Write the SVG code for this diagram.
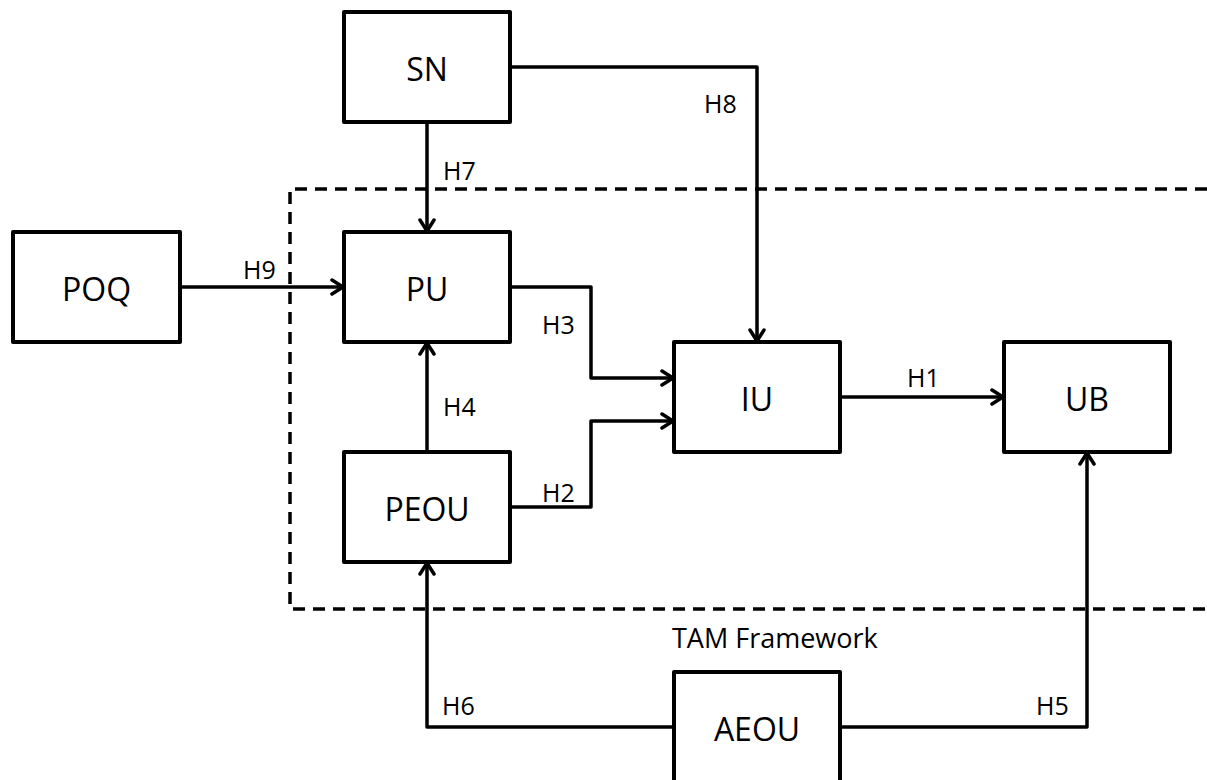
<svg xmlns="http://www.w3.org/2000/svg" width="1207" height="780" viewBox="0 0 1207 780">
<style>
.box{fill:#fff;stroke:#000;stroke-width:4;stroke-linejoin:round}
.node{font-family:"Open Sans","Liberation Sans",sans-serif;font-size:32px;fill:#000;text-anchor:middle}
.lbl{font-family:"Open Sans","Liberation Sans",sans-serif;font-size:25px;fill:#000}
.tam{font-family:"Open Sans","Liberation Sans",sans-serif;font-size:27px;fill:#000}
.ln{fill:none;stroke:#000;stroke-width:3.5;stroke-linejoin:round}
.arr{marker-end:url(#ah)}
.dash{fill:none;stroke:#000;stroke-width:3.5;stroke-dasharray:12 8}
</style>
<defs>
<marker id="ah" markerUnits="userSpaceOnUse" markerWidth="18" markerHeight="18" viewBox="0 0 18 18" refX="15" refY="9" orient="auto">
<path d="M4,2 L15,9 L4,16" fill="none" stroke="#000" stroke-width="3.5" stroke-linecap="round" stroke-linejoin="round"/>
</marker>
</defs>
<path class="dash" d="M1207,189 H290 V609 H1207"/>
<text class="tam" x="672" y="648">TAM Framework</text>
<g id="connectors">
<path class="ln arr" d="M427,122 V231"/>
<path class="ln arr" d="M180,287 H343"/>
<path class="ln arr" d="M510,67 H757 V341"/>
<path class="ln arr" d="M510,287 H591 V378 H673"/>
<path class="ln arr" d="M510,507 H591 V421 H673"/>
<path class="ln arr" d="M427,452 V343"/>
<path class="ln arr" d="M840,397 H1003"/>
<path class="ln arr" d="M674,727 H427 V563"/>
<path class="ln arr" d="M840,727 H1087 V453"/>
<text class="lbl" x="443" y="180">H7</text>
<text class="lbl" x="243" y="279">H9</text>
<text class="lbl" x="704" y="113">H8</text>
<text class="lbl" x="542" y="334">H3</text>
<text class="lbl" x="542" y="502">H2</text>
<text class="lbl" x="443" y="416">H4</text>
<text class="lbl" x="907" y="387">H1</text>
<text class="lbl" x="442" y="715">H6</text>
<text class="lbl" x="1036" y="715">H5</text>
</g>
<g id="SN"><rect class="box" x="344" y="12" width="166" height="110"/><text class="node" x="427" y="81">SN</text></g>
<g id="POQ"><rect class="box" x="13" y="232" width="167" height="110"/><text class="node" x="96.5" y="301">POQ</text></g>
<g id="PU"><rect class="box" x="344" y="232" width="166" height="110"/><text class="node" x="427" y="301">PU</text></g>
<g id="PEOU"><rect class="box" x="344" y="452" width="166" height="110"/><text class="node" x="427" y="521">PEOU</text></g>
<g id="IU"><rect class="box" x="674" y="342" width="166" height="110"/><text class="node" x="757" y="411">IU</text></g>
<g id="UB"><rect class="box" x="1004" y="342" width="166" height="110"/><text class="node" x="1087" y="411">UB</text></g>
<g id="AEOU"><rect class="box" x="674" y="672" width="166" height="120"/><text class="node" x="757" y="741">AEOU</text></g>
</svg>
